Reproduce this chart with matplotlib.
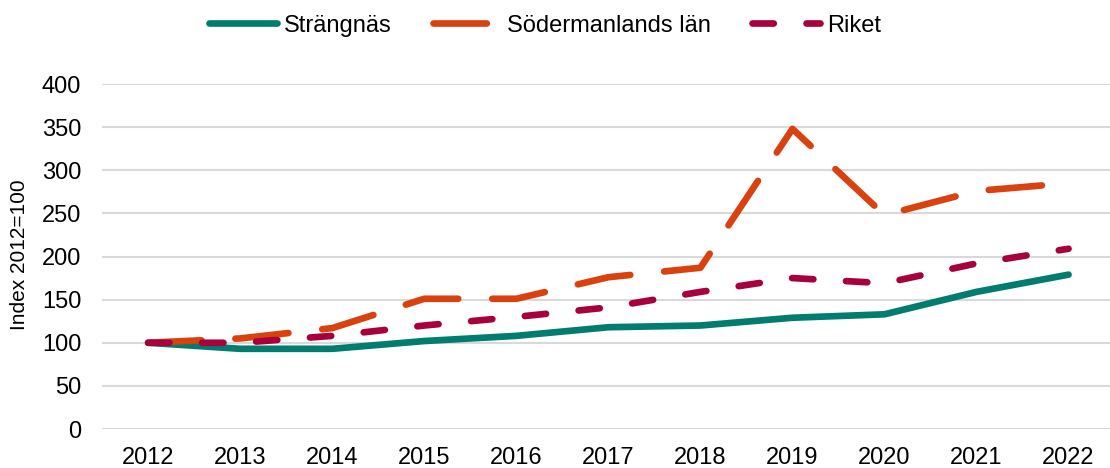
import numpy as np
import matplotlib.pyplot as plt

plt.rcParams['font.family'] = ['Liberation Sans', 'DejaVu Sans']

years = ["2012", "2013", "2014", "2015", "2016", "2017", "2018", "2019", "2020", "2021", "2022"]
strangnas = [100, 93, 93, 102, 108, 118, 120, 129, 133, 159, 179]
sodermanland = [100, 105, 117, 151, 151, 176, 187, 348, 248, 276, 285]
riket = [100, 100, 108, 120, 130, 141, 159, 175, 169, 192, 209]

fig = plt.figure(figsize=(11.1, 4.68), dpi=100)
ax = fig.add_axes([0.092, 0.0833, 0.908, 0.7372])

x = np.arange(len(years))
lw = 4.8
l1, = ax.plot(x, strangnas, color="#007D6E", lw=lw, solid_capstyle="round", label="Strängnäs")
l2, = ax.plot(x, sodermanland, color="#D9420E", lw=lw, dashes=(8, 5.1), dash_capstyle="round",
              label="Södermanlands län")
l3, = ax.plot(x, riket, color="#A8003C", lw=lw, dashes=(3.2, 4.9), dash_capstyle="round", label="Riket")

ax.set_xlim(-0.5, 10.45)
ax.set_ylim(0, 400)
ax.set_yticks(range(0, 401, 50))
ax.set_xticks(x)
ax.set_xticklabels(years)
ax.grid(axis="y", color="#D9D9D9", lw=1.5)
ax.set_axisbelow(True)
for s in ax.spines.values():
    s.set_visible(False)
ax.tick_params(length=0, labelsize=17, pad=13)
ax.tick_params(axis="y", pad=15)
ax.set_ylabel("Index 2012=100", fontsize=15)
ax.yaxis.set_label_coords(-0.073, 0.505)

fig.legend(handles=[l1, l2, l3], loc="center", bbox_to_anchor=(0.491, 0.945), ncol=3,
           frameon=False, fontsize=17, handlelength=2.85, handletextpad=0.3, columnspacing=1.75)

plt.savefig("out.png")
